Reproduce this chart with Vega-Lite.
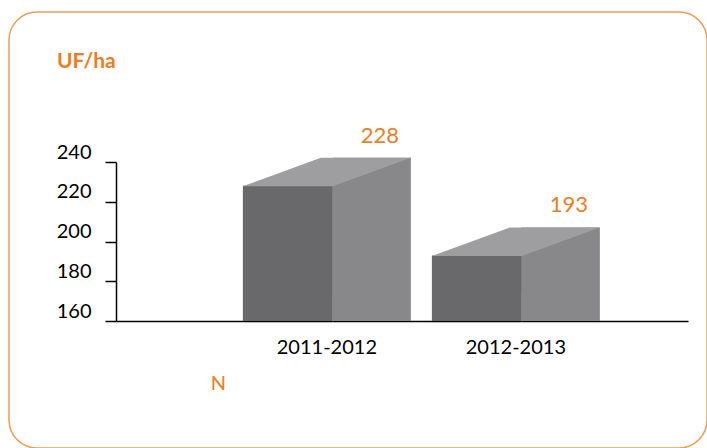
{
  "$schema": "https://vega.github.io/schema/vega-lite/v6.json",
  "width": 698,
  "height": 436,
  "autosize": {"type": "none"},
  "padding": {"left": 9, "top": 12, "right": 0, "bottom": 0},
  "background": "white",
  "title": {
    "text": "UF/ha",
    "anchor": "start",
    "frame": "group",
    "orient": "top",
    "offset": 0,
    "dx": 48,
    "dy": 60,
    "baseline": "top",
    "font": "Lato",
    "fontSize": 21,
    "fontWeight": "bold",
    "color": "#EE7D21"
  },
  "data": {
    "values": [
      {"season": "2011-2012", "uf": 228},
      {"season": "2012-2013", "uf": 193}
    ]
  },
  "encoding": {
    "x": {
      "field": "season",
      "type": "nominal",
      "sort": null,
      "scale": {"type": "band", "range": [107, 679], "paddingInner": 0.524, "paddingOuter": 0.775, "align": 0.433},
      "axis": {
        "orient": "bottom",
        "offset": -127,
        "domainColor": "black",
        "domainWidth": 1.5,
        "ticks": false,
        "labelFont": "Lato",
        "labelFontSize": 20,
        "labelColor": "black",
        "labelAngle": 0,
        "labelPadding": 16,
        "labelOffset": 39,
        "title": "N",
        "titleColor": "#EE7D21",
        "titleFont": "Lato",
        "titleFontSize": 20,
        "titleFontWeight": "normal",
        "titleX": 209,
        "titleY": 62,
        "titleAlign": "center",
        "titleBaseline": "middle"
      }
    }
  },
  "layer": [
    {
      "mark": {"type": "bar", "color": "#69696b"},
      "encoding": {
        "y": {
          "field": "uf",
          "type": "quantitative",
          "scale": {"domain": [160, 240], "range": [309, 150], "zero": false, "nice": false},
          "axis": {
            "orient": "left",
            "offset": -107,
            "values": [160, 180, 200, 220, 240],
            "domainColor": "black",
            "domainWidth": 1.5,
            "tickColor": "black",
            "tickWidth": 1.5,
            "tickSize": 11,
            "grid": false,
            "labelFont": "Lato",
            "labelFontSize": 20,
            "labelColor": "black",
            "labelPadding": 14,
            "labelOffset": -10,
            "labelFlush": false,
            "labelOverlap": false,
            "title": null
          }
        },
        "y2": {"datum": 160}
      }
    },
    {
      "mark": {"type": "bar", "color": "#88888a", "width": 78, "xOffset": 84, "yOffset": -28},
      "encoding": {
        "y": {"field": "uf", "type": "quantitative"},
        "y2": {"datum": 160}
      }
    },
    {
      "mark": {"type": "point", "shape": "M44.5,-28.5L44.5,0.5L123,-28.5Z", "size": 4, "filled": true, "color": "#88888a", "opacity": 1, "strokeWidth": 0},
      "encoding": {
        "y": {"datum": 160, "type": "quantitative"}
      }
    },
    {
      "mark": {"type": "point", "shape": "M-45,0.5L33,-28L123,-28L45,0.5Z", "size": 4, "filled": true, "color": "#9e9ea0", "opacity": 1, "strokeWidth": 0},
      "encoding": {
        "y": {"field": "uf", "type": "quantitative"}
      }
    },
    {
      "mark": {"type": "text", "dx": 92, "dy": -50, "font": "Lato", "fontSize": 22, "color": "#EE7D21", "baseline": "middle"},
      "encoding": {
        "y": {"field": "uf", "type": "quantitative"},
        "text": {"field": "uf", "type": "quantitative"}
      }
    }
  ],
  "config": {
    "view": {"stroke": "#F29C50", "strokeWidth": 1.5, "cornerRadius": 28}
  }
}
